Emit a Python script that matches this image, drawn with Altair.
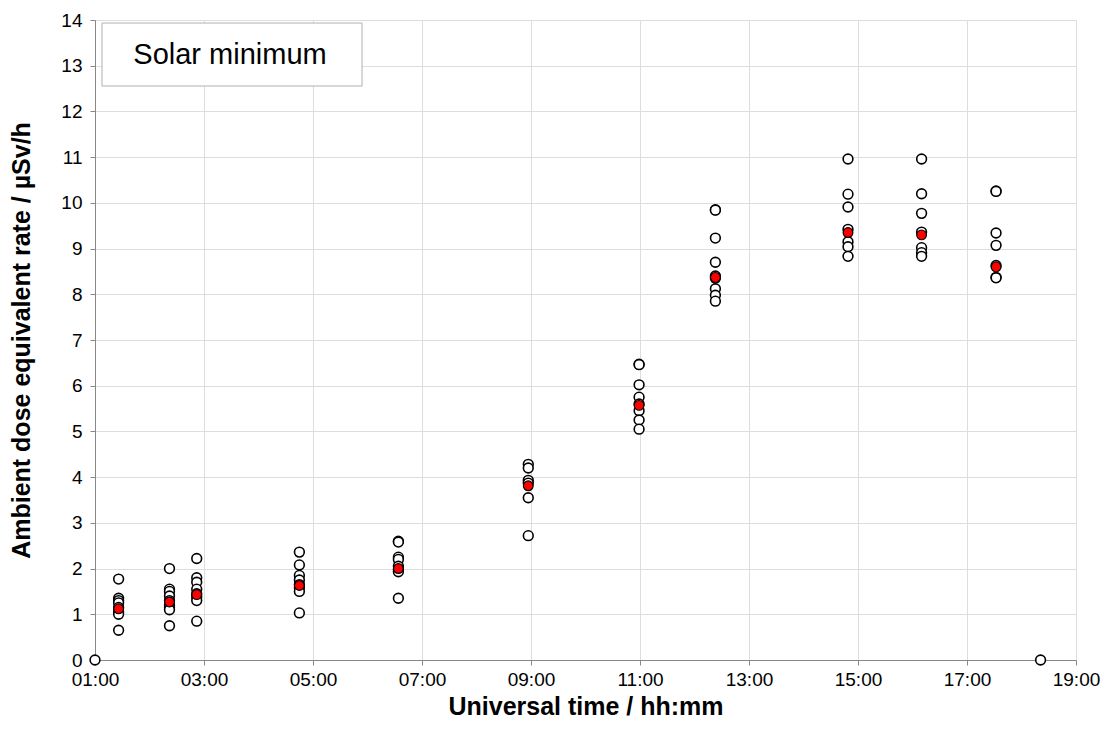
import altair as alt
import pandas as pd

# Measurement clusters: time (UT) and individual dose rates (µSv/h)
times = ["01:26", "02:22", "02:52", "04:45", "06:34", "08:57",
         "10:59", "12:23", "14:49", "16:10", "17:32"]
values = [
    [1.77, 1.35, 1.30, 1.25, 1.15, 1.05, 1.00, 0.65],
    [2.00, 1.55, 1.50, 1.40, 1.30, 1.20, 1.15, 1.10, 0.75],
    [2.22, 1.80, 1.70, 1.55, 1.45, 1.38, 1.30, 0.85],
    [2.36, 2.08, 1.85, 1.75, 1.65, 1.58, 1.50, 1.03],
    [2.60, 2.58, 2.25, 2.20, 2.05, 1.98, 1.93, 1.35],
    [4.28, 4.20, 3.93, 3.87, 3.55, 2.72],
    [6.47, 6.46, 6.02, 5.75, 5.60, 5.45, 5.25, 5.05],
    [9.85, 9.84, 9.23, 8.70, 8.40, 8.35, 8.12, 7.98, 7.85],
    [10.96, 10.19, 9.91, 9.42, 9.15, 9.04, 8.83],
    [10.96, 10.20, 9.77, 9.36, 9.02, 8.91, 8.83],
    [10.26, 10.25, 9.34, 9.07, 8.63, 8.37, 8.36],
]
means = [1.12, 1.27, 1.43, 1.63, 2.00, 3.81, 5.57, 8.37, 9.35, 9.30, 8.60]
zero_times = ["01:00", "18:21"]
zero_values = [0.0, 0.0]
x_ticks = [1, 3, 5, 7, 9, 11, 13, 15, 17, 19]


def hours(t):
    h, m = t.split(":")
    return int(h) + int(m) / 60.0


rows = []
for t, vs in zip(times, values):
    for v in vs:
        rows.append({"t": hours(t), "v": v})
for t, v in zip(zero_times, zero_values):
    rows.append({"t": hours(t), "v": v})
points = pd.DataFrame(rows)
mean_df = pd.DataFrame({"t": [hours(t) for t in times], "v": means})

FONT = "Liberation Sans"

x_enc = alt.X("t:Q", scale=alt.Scale(domain=[1, 19], nice=False, zero=False),
              axis=alt.Axis(values=x_ticks, title="Universal time / hh:mm",
                            labelExpr="(datum.value < 10 ? '0' : '') + datum.value + ':00'",
                            titleFontSize=25, titleFontWeight="bold", labelFontSize=19,
                            labelFlush=False, titlePadding=5, labelPadding=5))
y_enc = alt.Y("v:Q", scale=alt.Scale(domain=[0, 14], nice=False),
              axis=alt.Axis(values=list(range(0, 15)),
                            title="Ambient dose equivalent rate /  µSv/h",
                            titleFontSize=25, titleFontWeight="bold", labelFontSize=19,
                            labelFlush=False, titlePadding=26, labelPadding=8))

base_pts = alt.Chart(points).mark_point(
    shape="circle", filled=True, fill="white", stroke="black",
    strokeWidth=1.6, size=95, opacity=1
).encode(x=x_enc, y=y_enc)

mean_pts = alt.Chart(mean_df).mark_point(
    shape="circle", filled=True, fill="#ff0000", stroke="black",
    strokeWidth=1.2, size=95, opacity=1
).encode(x="t:Q", y="v:Q")

box = alt.Chart(pd.DataFrame({"a": [0]})).mark_rect(
    fill="white", stroke="#b0b0b0", strokeWidth=1
).encode(x=alt.value(7), x2=alt.value(267), y=alt.value(3), y2=alt.value(66))

label = alt.Chart(pd.DataFrame({"txt": ["Solar minimum"]})).mark_text(
    fontSize=29, font=FONT, color="black", align="center", baseline="middle"
).encode(x=alt.value(135), y=alt.value(35), text="txt:N")

chart = alt.layer(base_pts, box, label, mean_pts).properties(
    width=981, height=640,
    autosize=alt.AutoSizeParams(type="none"),
    padding={"left": 95, "top": 20, "right": 37, "bottom": 87},
).configure_axis(
    labelFont=FONT, titleFont=FONT, labelColor="black", titleColor="black",
    gridColor="#d0d0d0", gridWidth=1.2, domainColor="black", domainWidth=1.2,
    tickColor="black", tickSize=6, tickWidth=1.2,
).configure_view(stroke=None).configure(background="white")

chart.save("out.html", embed_options={"renderer": "svg", "actions": False})
